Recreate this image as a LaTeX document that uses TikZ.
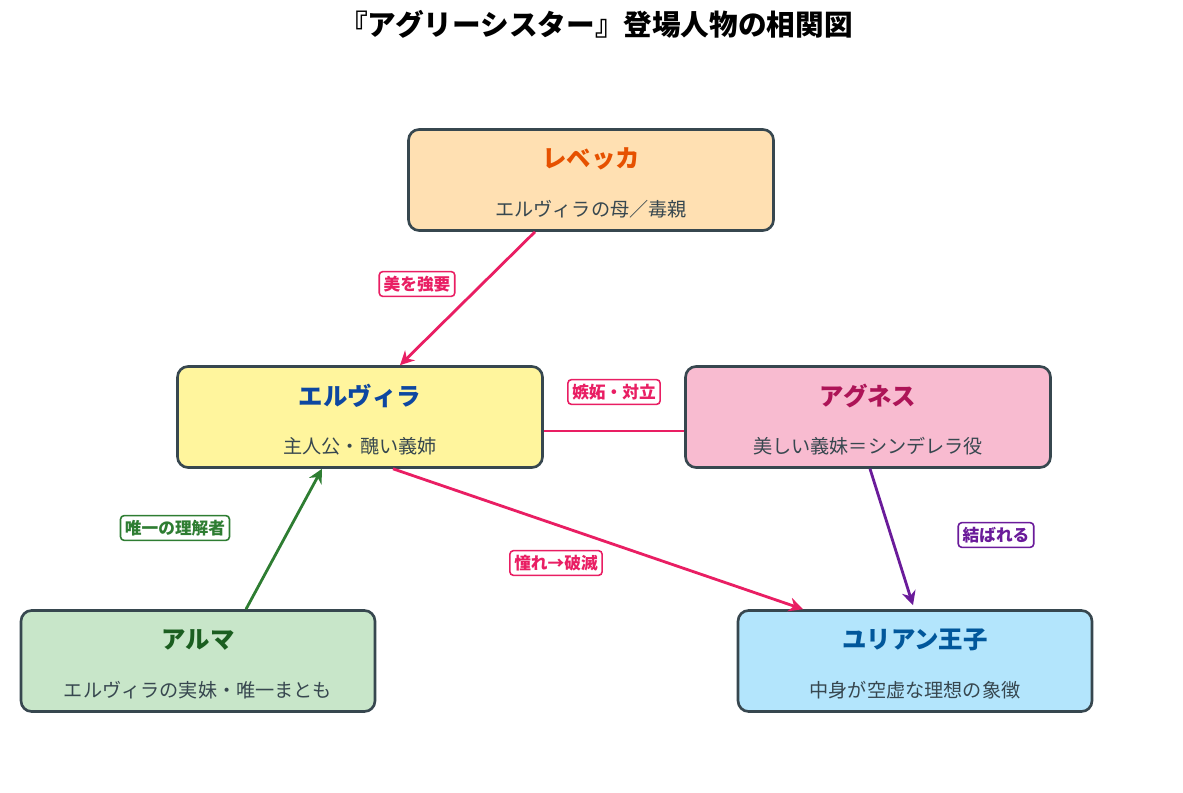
\documentclass[tikz,border=0pt]{standalone}
\usepackage{fontspec}
\setmainfont{Noto Sans CJK JP}
\usetikzlibrary{calc,arrows.meta}
\definecolor{edge}{HTML}{37474F}
\definecolor{pinkline}{HTML}{E91E63}
\definecolor{purpleline}{HTML}{6A1B9A}
\definecolor{greenline}{HTML}{2E7D32}
\begin{document}
\begin{tikzpicture}[x=0.02cm,y=-0.02cm,
  person/.style={draw=edge,line width=1.5pt,rounded corners=6pt,minimum width=7.3cm,minimum height=2.02cm,inner sep=0pt},
  pname/.style={font=\fontsize{13.9}{16}\selectfont\bfseries},
  psub/.style={font=\fontsize{10.9}{13}\selectfont,text=edge},
  rel/.style={line width=1.6pt,-{Stealth[length=8pt,width=8pt]}},
  tag/.style={fill=white,line width=0.9pt,rounded corners=2pt,inner sep=2.5pt,font=\fontsize{9.5}{11}\selectfont\bfseries}]
\useasboundingbox (0,0) rectangle (1183,793);
\node[font=\fontsize{16.3}{19}\selectfont\bfseries] (title) at (596,24) {『アグリーシスター』登場人物の相関図};
% people
\node[person,fill={rgb,255:red,255;green,224;blue,178}] (reb) at (591,180) {};
\node[pname,text={rgb,255:red,230;green,81;blue,0}] (rebN) at (591,159) {レベッカ};
\node[psub] (rebS) at (591,209) {エルヴィラの母／毒親};
\node[person,fill={rgb,255:red,255;green,245;blue,157}] (elv) at (360,417) {};
\node[pname,text={rgb,255:red,13;green,71;blue,161}] (elvN) at (360,396) {エルヴィラ};
\node[psub] (elvS) at (360,446) {主人公・醜い義姉};
\node[person,fill={rgb,255:red,248;green,187;blue,208}] (agn) at (868,417) {};
\node[pname,text={rgb,255:red,173;green,20;blue,87}] (agnN) at (868,396) {アグネス};
\node[psub] (agnS) at (868,446) {美しい義妹＝シンデレラ役};
\node[person,minimum width=7.08cm,fill={rgb,255:red,200;green,230;blue,201}] (alm) at (198,661) {};
\node[pname,text={rgb,255:red,27;green,94;blue,32}] (almN) at (198,640) {アルマ};
\node[psub] (almS) at (198,690) {エルヴィラの実妹・唯一まとも};
\node[person,minimum width=7.08cm,fill={rgb,255:red,179;green,229;blue,252}] (yur) at (915,661) {};
\node[pname,text={rgb,255:red,1;green,87;blue,155}] (yurN) at (915,640) {ユリアン王子};
\node[psub] (yurS) at (915,690) {中身が空虚な理想の象徴};
% relations
\draw[rel,pinkline] ($(reb.south)+(-56,0)$) -- ($(elv.north)+(40,0)$);
\node[tag,draw=pinkline,text=pinkline] (t1) at (417,284) {美を強要};
\draw[pinkline,line width=1.6pt] ($(elv.east)+(0,14)$) -- ($(agn.west)+(0,14)$);
\node[tag,draw=pinkline,text=pinkline] (t2) at (614,392) {嫉妬・対立};
\draw[rel,purpleline] ($(agn.south)+(2,0)$) -- ($(yur.north)+(-2,-4)$);
\node[tag,draw=purpleline,text=purpleline] (t3) at (996,535) {結ばれる};
\draw[rel,greenline] ($(alm.north)+(48,0)$) -- ($(elv.south)+(-38,0)$);
\node[tag,draw=greenline,text=greenline] (t4) at (175,528) {唯一の理解者};
\draw[rel,pinkline] ($(elv.south)+(33,0)$) -- ($(yur.north)+(-112,0)$);
\node[tag,draw=pinkline,text=pinkline] (t5) at (556,563) {憧れ→破滅};
\end{tikzpicture}
\end{document}
